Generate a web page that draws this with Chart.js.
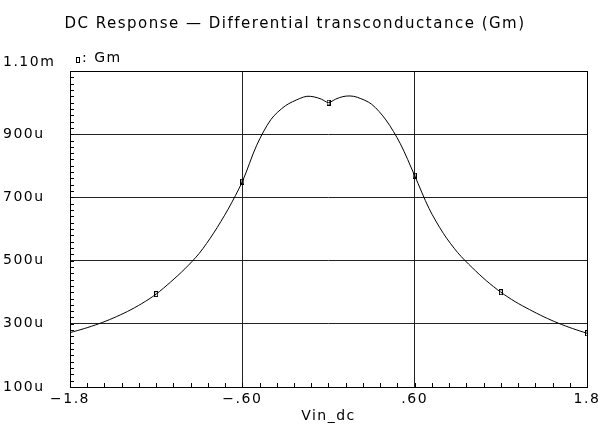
<!DOCTYPE html>
<html>
<head>
<meta charset="utf-8">
<script src="https://cdn.jsdelivr.net/npm/chart.js@4"></script>
<style>
  html, body { margin: 0; padding: 0; background: #fff; }
  #wrap { width: 611px; height: 426px; }
</style>
</head>
<body>
<div id="wrap"><canvas id="gm_chart" width="611" height="426"></canvas></div>
<script>
// Datos (Gm en u)
const vin = [-1.8, -1.7, -1.6, -1.5, -1.4, -1.3, -1.2, -1.1, -1.0, -0.9, -0.8, -0.7, -0.6, -0.5, -0.4, -0.3, -0.2, -0.15, -0.1, -0.05, 0,
             0.05, 0.1, 0.15, 0.2, 0.3, 0.4, 0.5, 0.6, 0.7, 0.8, 0.9, 1.0, 1.1, 1.2, 1.3, 1.4, 1.5, 1.6, 1.7, 1.8];
const gm = [272, 285, 300, 318, 339, 364, 394, 432, 474, 523, 587, 662, 750, 865, 947, 990, 1013, 1020, 1018, 1011, 1000,
            1011, 1019, 1021, 1017, 995, 945, 870, 769, 665, 586, 525, 478, 436, 400, 370, 345, 322, 302, 285, 270];
const markerVin = [-1.2, -0.6, 0, 0.6, 1.2, 1.8];

const xTicks = [-1.8, -0.6, 0.6, 1.8];
const xTickLabels = ['\u22121.8', '\u2212.60', '.60', '1.8'];
const yTicks = [100, 300, 500, 700, 900, 1100];
const yTickLabels = ['100u', '300u', '500u', '700u', '900u', '1.10m'];

const FONT = 'DejaVu Sans';

// marcador: rectangulo hueco
const marker = document.createElement('canvas');
marker.width = 4; marker.height = 6;
(() => {
    const c = marker.getContext('2d');
    c.strokeStyle = '#000';
    c.lineWidth = 1;
    c.strokeRect(0.5, 0.5, 3, 5);
})();

// espaciado de letras, caja, marcas menores y leyenda
const framePlugin = {
    id: 'frame',
    beforeUpdate(chart) { chart.ctx.letterSpacing = '1.5px'; },
    beforeDraw(chart) { chart.ctx.letterSpacing = '1.5px'; },
    afterDraw(chart) {
        const {ctx, chartArea: a, scales: {x, y}} = chart;
        ctx.save();
        ctx.strokeStyle = '#000';
        ctx.lineWidth = 1;
        ctx.strokeRect(Math.round(a.left) + 0.5, Math.round(a.top) + 0.5, Math.round(a.right - a.left), Math.round(a.bottom - a.top));
        ctx.beginPath();
        for (let v = 100; v <= 1100; v += 20) {
            const py = Math.round(y.getPixelForValue(v)) + 0.5;
            ctx.moveTo(a.left, py); ctx.lineTo(a.left + 4, py);
        }
        for (let i = 0; i <= 30; i++) {
            const px = Math.round(x.getPixelForValue(-1.8 + i * 0.12)) + 0.5;
            ctx.moveTo(px, a.bottom); ctx.lineTo(px, a.bottom - 4);
        }
        ctx.stroke();
        // leyenda
        ctx.drawImage(marker, 76, 57);
        ctx.fillStyle = '#000';
        ctx.font = '14px ' + FONT;
        ctx.textBaseline = 'middle';
        ctx.fillText(': Gm', 82, 58);
        ctx.restore();
    }
};

let config = {
    type: 'line',
    data: {
        datasets: [{
            label: 'Gm',
            data: vin.map((v, i) => ({x: v, y: gm[i]})),
            borderColor: '#000',
            borderWidth: 1,
            fill: false,
            tension: 0.3,
            pointStyle: marker,
            pointRadius: ctx => markerVin.some(m => Math.abs(m - vin[ctx.dataIndex]) < 1e-6) ? 3 : 0,
            pointHoverRadius: 0
        }]
    },
    options: {
        responsive: false,
        animation: false,
        layout: { padding: { left: 3, right: 24, top: 0, bottom: 0 } },
        plugins: {
            legend: { display: false },
            tooltip: { enabled: false },
            title: {
                display: true,
                text: 'DC Response \u2014 Differential transconductance (Gm)',
                color: '#000',
                font: { family: FONT, size: 15, weight: 'normal' },
                padding: { top: 15, bottom: 38 }
            }
        },
        scales: {
            x: {
                type: 'linear',
                min: -1.8,
                max: 1.8,
                afterBuildTicks: s => { s.ticks = xTicks.map(v => ({value: v})); },
                afterFit: s => { s.height = 39; },
                ticks: {
                    color: '#000',
                    padding: 4,
                    maxRotation: 0,
                    font: { family: FONT, size: 14 },
                    callback: v => xTickLabels[xTicks.indexOf(v)]
                },
                grid: {
                    color: '#222',
                    drawTicks: false
                },
                border: { display: false },
                title: {
                    display: true,
                    text: 'Vin_dc',
                    color: '#000',
                    font: { family: FONT, size: 14 },
                    padding: { top: 0, bottom: 1 }
                }
            },
            y: {
                type: 'linear',
                min: 100,
                max: 1100,
                afterBuildTicks: s => { s.ticks = yTicks.map(v => ({value: v})); },
                afterFit: s => { s.width = 67; },
                ticks: {
                    color: '#000',
                    crossAlign: 'far',
                    font: { family: FONT, size: 14 },
                    // la etiqueta superior va un poco por encima del borde
                    callback: v => v === 1100 ? [yTickLabels[yTicks.indexOf(v)], ''] : yTickLabels[yTicks.indexOf(v)]
                },
                grid: {
                    color: '#222',
                    drawTicks: false
                },
                border: { display: false }
            }
        }
    },
    plugins: [framePlugin]
};

new Chart(document.getElementById('gm_chart').getContext('2d'), config);
</script>
</body>
</html>
